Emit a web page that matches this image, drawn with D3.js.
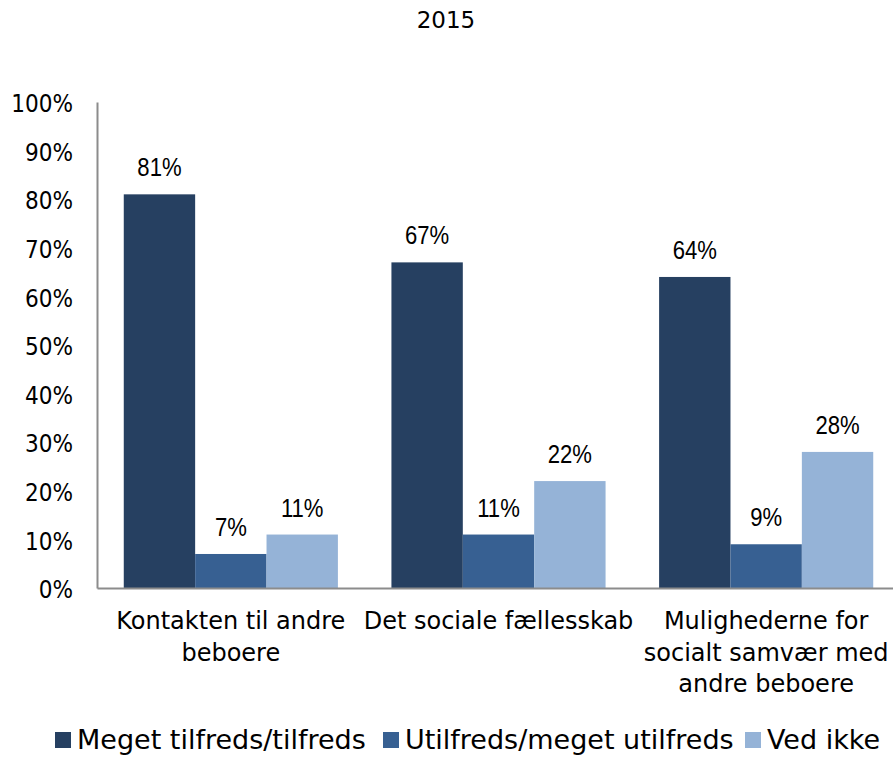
<!DOCTYPE html>
<html><head><meta charset="utf-8">
<script src="https://cdn.jsdelivr.net/npm/d3@7"></script>
<style>body{margin:0;background:#fff}svg{display:block}text{font-family:"DejaVu Sans",sans-serif;fill:#000}</style>
</head><body><svg id="c" width="893" height="757"></svg>
<script>
const title = "2015";
const categories = [["Kontakten til andre","beboere"],["Det sociale fællesskab"],["Mulighederne for","socialt samvær med","andre beboere"]];
const seriesNames = ["Meget tilfreds/tilfreds","Utilfreds/meget utilfreds","Ved ikke"];
const seriesColors = ["#264061","#376092","#95B3D7"];
const valsMeget = [81,67,64];
const valsUtilfreds = [7,11,9];
const valsVedIkke = [11,22,28];
const yTicks = [0,10,20,30,40,50,60,70,80,90,100];

const series = [valsMeget, valsUtilfreds, valsVedIkke];
const svg = d3.select("#c");
const catIdx = categories.map((d,i)=>i);
const x0 = d3.scaleBand().domain(catIdx).range([97,900]).paddingInner(0.2).paddingOuter(0.1);
const x1 = d3.scaleBand().domain([0,1,2]).range([0,x0.bandwidth()]);
const y = d3.scaleLinear().domain([0,100]).range([588,102]);

svg.append("text").attr("x",446).attr("y",28).attr("text-anchor","middle").style("font-size","23px").text(title);

// y axis
const ya = svg.append("g").attr("transform","translate(97,0)").call(d3.axisLeft(y).tickValues(yTicks).tickSize(0).tickPadding(24).tickFormat(d=>d+"%"));
ya.select(".domain").attr("stroke","#8c8c8c").attr("stroke-width",2);
ya.selectAll("text").style("font-size","24px").style("font-family","'DejaVu Sans Condensed','DejaVu Sans',sans-serif").attr("fill","#000").attr("dy","0.4em");

// bars
const g = svg.append("g");
catIdx.forEach(ci=>{
  series.forEach((s,si)=>{
    const bx = x0(ci)+x1(si);
    g.append("rect").attr("x",bx).attr("y",y(s[ci])).attr("width",x1.bandwidth()).attr("height",y(0)-y(s[ci])).attr("fill",seriesColors[si]);
    g.append("text").attr("transform",`translate(${bx+x1.bandwidth()/2},${y(s[ci])-18}) scale(0.85,1)`).attr("text-anchor","middle")
      .style("font-family","'Liberation Sans',Arial,sans-serif").style("font-size","26px").text(s[ci]+"%");
  });
});

// x axis
const xa = svg.append("g").attr("transform","translate(0,588)").call(d3.axisBottom(x0).tickSize(0).tickFormat(""));
xa.select(".domain").attr("stroke","#8c8c8c").attr("stroke-width",2);
catIdx.forEach(ci=>{
  const cx = x0(ci)+x0.bandwidth()/2;
  const t = svg.append("text").attr("x",cx).attr("y",629).attr("text-anchor","middle").style("font-size","24px");
  categories[ci].forEach((line,li)=>t.append("tspan").attr("x",cx).attr("dy",li?31.5:0).text(line));
});

// legend
const legX = [55,383,745];
seriesNames.forEach((n,i)=>{
  svg.append("rect").attr("x",legX[i]).attr("y",732).attr("width",16).attr("height",16).attr("fill",seriesColors[i]);
  svg.append("text").attr("x",legX[i]+22).attr("y",749).style("font-size","27px").text(n);
});
</script></body></html>
